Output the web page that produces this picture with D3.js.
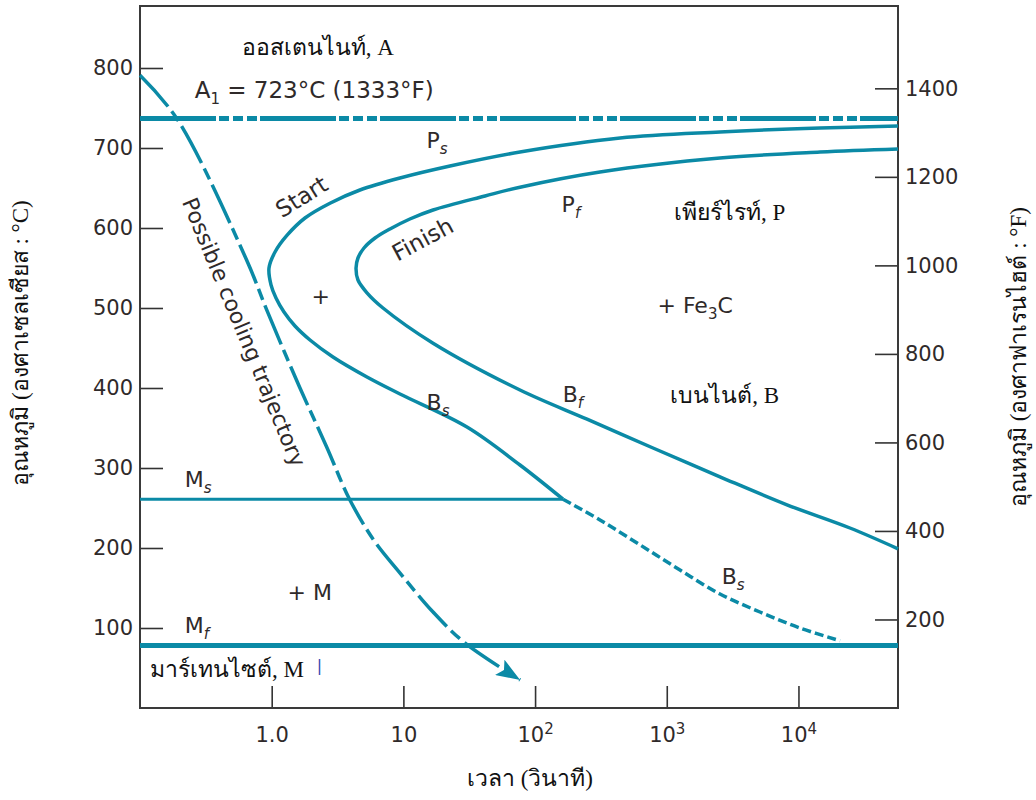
<!DOCTYPE html>
<html>
<head>
<meta charset="utf-8">
<script src="https://cdn.jsdelivr.net/npm/d3@7"></script>
<style>
body{margin:0;background:#fff;}
.thai{font-family:"Liberation Serif","DejaVu Serif",serif;fill:#111;}
.lbl{font-family:"DejaVu Sans",sans-serif;fill:#2f2a2a;}
.tick text{font-family:"DejaVu Sans",sans-serif;font-size:21px;fill:#2f2a2a;}
.tick line{stroke:#333;stroke-width:1.6;}
</style>
</head>
<body>
<svg id="ttt" width="1036" height="800"></svg>
<script>
// ---- data ----
var tempTicksC = [100, 200, 300, 400, 500, 600, 700, 800];
var tempTicksF = [200, 400, 600, 800, 1000, 1200, 1400];
var timeTicks = [1, 10, 100, 1000, 10000];
var timeTickBase = ["1.0", "10", "10", "10", "10"];
var timeTickExp = ["", "", "2", "3", "4"];

var a1Temp = 737;   // line drawn a bit above the 723 label
var msTemp = 261;
var mfTemp = 78;
var msEndTime = 163;

// start curve (Ps upper branch, round the nose, Bs lower branch down to Ms)
var startTime = [57000, 14580, 2535, 442, 76.8, 22.6, 9.42, 4.68, 2.77, 1.79, 1.31, 1.06, 0.954,
                 0.988, 1.078, 1.24, 1.503, 1.954, 2.92, 5.29, 9.42, 30.4, 76.8, 163];
var startTemp = [727.5, 725, 720, 712.5, 695, 677.5, 662.5, 647.5, 631, 612.5, 591, 570, 550,
                 529, 512.5, 495, 477.5, 460, 438.75, 413.75, 392.5, 351.25, 303.75, 261];

// Bs below Ms (dashed)
var bsLowTime = [163, 311, 626, 1260, 2535, 5100, 10270, 20700];
var bsLowTemp = [261, 235, 204, 172.5, 142.5, 120, 100, 84];

// finish curve
var finishTime = [57000, 14580, 2535, 311, 76.8, 41.7, 16.8, 11.2, 7.91, 6.09, 5.02, 4.52, 4.37,
                  4.52, 5.29, 7.0, 16.8, 76.8, 248, 786, 2535, 8180, 24600, 57000];
var finishTemp = [698.75, 695, 687.5, 670, 651, 640, 622.5, 611.25, 598.75, 587.5, 575, 562.5, 550,
                  535, 519, 500, 456, 397.5, 361, 325, 289, 254, 225, 199];

// possible cooling trajectory
var coolTime = [0.1, 0.19, 0.645, 0.92, 1.63, 2.62, 3.9, 5.95, 9.4, 16.8, 29, 77];
var coolTemp = [791, 737, 560, 497, 401, 326, 261, 210, 169, 120, 82, 35];

// annotations (t in s, T in °C)
var labels = [
    {text: "A", sub: "1", rest: " = 723°C (1333°F)", t: 0.26, T: 762, size: 23},
    {text: "P", sub: "s", it: true, t: 15, T: 700, size: 22},
    {text: "Start", t: 1.69, T: 639, size: 23, angle: -32, mid: true},
    {text: "P", sub: "f", it: true, t: 159, T: 620, size: 22},
    {text: "Finish", t: 14, T: 586, size: 23, angle: -28, mid: true},
    {text: "+", t: 2.36, T: 515, size: 22, mid: true},
    {text: "+ Fe", sub: "3", rest: "C", t: 850, T: 494, size: 22},
    {text: "B", sub: "s", it: true, t: 15, T: 372, size: 22},
    {text: "B", sub: "f", it: true, t: 162, T: 382, size: 22},
    {text: "M", sub: "s", it: true, t: 0.219, T: 276, size: 22},
    {text: "Possible cooling trajectory", t: 0.62, T: 470, size: 22, angle: 67.5, mid: true},
    {text: "B", sub: "s", it: true, t: 2610, T: 155, size: 22},
    {text: "+ M", t: 1.32, T: 135, size: 22},
    {text: "M", sub: "f", it: true, t: 0.219, T: 94, size: 22}
];
var thaiLabels = [
    {text: "ออสเตนไนท์, A", t: 2.24, T: 816},
    {text: "เพียร์ไรท์, P", t: 3000, T: 610},
    {text: "เบนไนต์, B", t: 2750, T: 381},
    {text: "มาร์เทนไซต์, M", t: 0.119, T: 39, start: true}
];

var lineColor = "#0b8aa6";

function drawChart(){
    var svg = d3.select("#ttt");

    var x = d3.scaleLog().domain([0.1, 57000]).range([140, 898]);
    var y = d3.scaleLinear().domain([0, 877.5]).range([708, 6]);
    var yF = d3.scaleLinear().domain([0, 1586]).range([708, 6]);

    var left = x.range()[0], right = x.range()[1];
    var top = y.range()[1], bottom = y.range()[0];

    // axes, ticks pointing inwards
    svg.append("g")
        .attr("transform", "translate(" + left + ",0)")
        .call(d3.axisLeft(y).tickValues(tempTicksC).tickSize(-23).tickPadding(7))
        .select(".domain").remove();

    svg.append("g")
        .attr("transform", "translate(" + right + ",0)")
        .call(d3.axisRight(yF).tickValues(tempTicksF).tickSize(-23).tickPadding(7).tickFormat(d3.format("d")))
        .select(".domain").remove();

    var xAxis = svg.append("g")
        .attr("transform", "translate(0," + bottom + ")")
        .call(d3.axisBottom(x).tickValues(timeTicks).tickSize(-22).tickPadding(19).tickFormat(""));
    xAxis.select(".domain").remove();
    xAxis.selectAll(".tick text")
        .each(function(d, i){
            var t = d3.select(this);
            t.append("tspan").text(timeTickBase[i]);
            if(timeTickExp[i]){
                t.append("tspan").attr("dy", -8).attr("font-size", "15px").text(timeTickExp[i]);
            }
        });

    // frame
    svg.append("rect")
        .attr("x", left).attr("y", top)
        .attr("width", right - left).attr("height", bottom - top)
        .attr("fill", "none").attr("stroke", "#3a3a3a").attr("stroke-width", 2);

    var line = d3.line()
        .x(d => x(d[0]))
        .y(d => y(d[1]))
        .curve(d3.curveCatmullRom.alpha(0.5));

    // A1 line, dash-dot
    svg.append("line")
        .attr("x1", left).attr("x2", right)
        .attr("y1", y(a1Temp)).attr("y2", y(a1Temp))
        .attr("stroke", lineColor).attr("stroke-width", 5)
        .attr("stroke-dasharray", "76 3 10 4 10 4 10 3");

    // Ms and Mf
    svg.append("line")
        .attr("x1", left).attr("x2", x(msEndTime))
        .attr("y1", y(msTemp)).attr("y2", y(msTemp))
        .attr("stroke", lineColor).attr("stroke-width", 3);
    svg.append("line")
        .attr("x1", left).attr("x2", right)
        .attr("y1", y(mfTemp)).attr("y2", y(mfTemp))
        .attr("stroke", lineColor).attr("stroke-width", 5);

    svg.append("path")
        .datum(startTime.map((t, i) => [t, startTemp[i]]))
        .attr("d", line)
        .attr("fill", "none").attr("stroke", lineColor).attr("stroke-width", 3.5);

    svg.append("path")
        .datum(finishTime.map((t, i) => [t, finishTemp[i]]))
        .attr("d", line)
        .attr("fill", "none").attr("stroke", lineColor).attr("stroke-width", 3.5);

    svg.append("path")
        .datum(bsLowTime.map((t, i) => [t, bsLowTemp[i]]))
        .attr("d", line)
        .attr("fill", "none").attr("stroke", lineColor).attr("stroke-width", 3.5)
        .attr("stroke-dasharray", "9 4");

    // arrow head for the cooling path
    svg.append("defs").append("marker")
        .attr("id", "arrow")
        .attr("markerUnits", "userSpaceOnUse")
        .attr("markerWidth", 26).attr("markerHeight", 18)
        .attr("refX", 24).attr("refY", 9)
        .attr("orient", "auto")
        .append("path")
        .attr("d", "M0,0 L24,9 L0,18 L5,9 Z")
        .attr("fill", lineColor);

    svg.append("path")
        .datum(coolTime.map((t, i) => [t, coolTemp[i]]))
        .attr("d", line)
        .attr("fill", "none").attr("stroke", lineColor).attr("stroke-width", 3.5)
        .attr("stroke-dasharray", "42 6 12 6")
        .attr("marker-end", "url(#arrow)");

    // sans labels
    labels.forEach(function(d){
        var t = svg.append("text")
            .classed("lbl", true)
            .attr("font-size", d.size + "px")
            .attr("text-anchor", d.mid ? "middle" : "start")
            .attr("dominant-baseline", d.mid ? "central" : "auto")
            .attr("transform", "translate(" + x(d.t) + "," + y(d.T) + ") rotate(" + (d.angle || 0) + ")");
        t.append("tspan").text(d.text);
        if(d.sub){
            t.append("tspan").attr("dy", 6).attr("font-size", "15px")
                .attr("font-style", d.it ? "italic" : "normal").text(d.sub);
        }
        if(d.rest){
            t.append("tspan").attr("dy", -6).text(d.rest);
        }
    });

    // thai region names
    thaiLabels.forEach(function(d){
        svg.append("text")
            .classed("thai", true)
            .attr("font-size", "23px")
            .attr("text-anchor", d.start ? "start" : "middle")
            .attr("x", x(d.t)).attr("y", y(d.T))
            .text(d.text);
    });
    // small blue mark after the martensite label
    svg.append("text")
        .attr("x", x(2.2)).attr("y", y(46))
        .attr("font-family", "DejaVu Sans").attr("font-size", "16px")
        .attr("fill", "#3347b0")
        .text("|");

    // axis titles
    svg.append("text")
        .classed("thai", true)
        .attr("font-size", "23px")
        .attr("text-anchor", "middle")
        .attr("transform", "translate(28," + ((top + bottom) / 2 - 14) + ") rotate(-90)")
        .text("อุณหภูมิ (องศาเซลเซียส : °C)");

    svg.append("text")
        .classed("thai", true)
        .attr("font-size", "23px")
        .attr("text-anchor", "middle")
        .attr("transform", "translate(1026," + ((top + bottom) / 2) + ") rotate(-90)")
        .text("อุณหภูมิ (องศาฟาเรนไฮต์ : °F)");

    svg.append("text")
        .classed("thai", true)
        .attr("font-size", "23px")
        .attr("text-anchor", "middle")
        .attr("x", (left + right) / 2 + 11)
        .attr("y", 786)
        .text("เวลา (วินาที)");
}

drawChart();
</script>
</body>
</html>
